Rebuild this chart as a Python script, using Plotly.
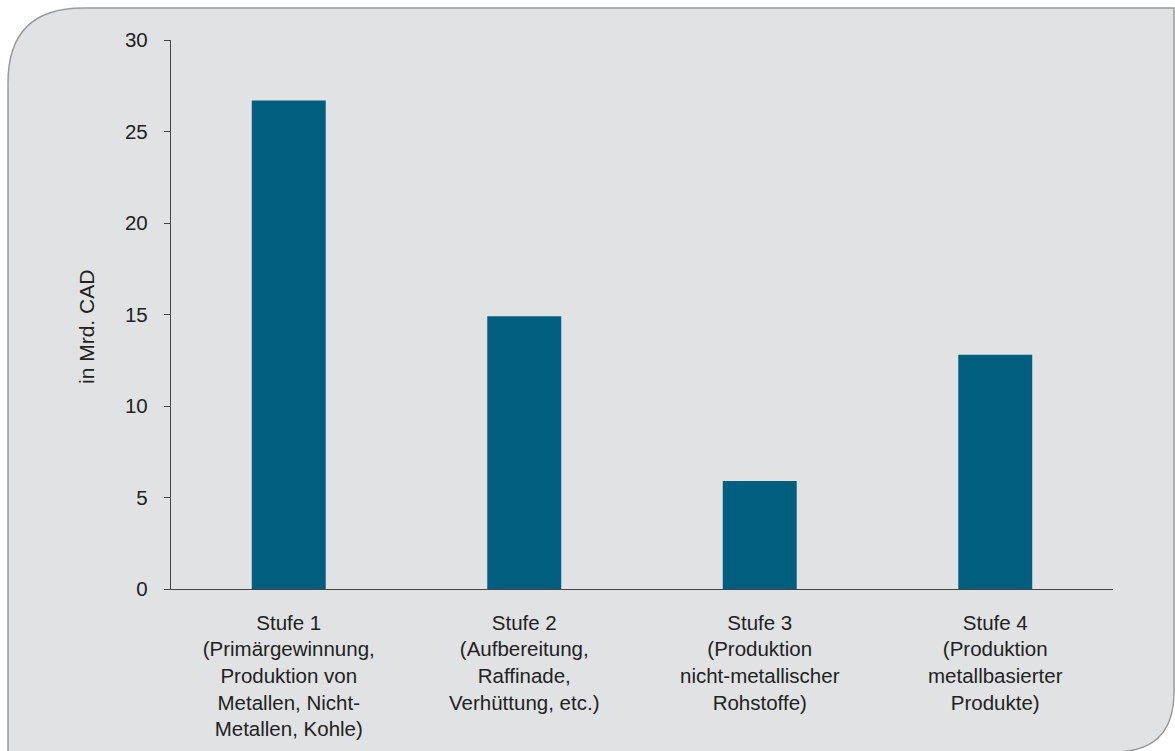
import plotly.graph_objects as go

categories = [
    "Stufe 1<br>(Primärgewinnung,<br>Produktion von<br>Metallen, Nicht-<br>Metallen, Kohle)",
    "Stufe 2<br>(Aufbereitung,<br>Raffinade,<br>Verhüttung, etc.)",
    "Stufe 3<br>(Produktion<br>nicht-metallischer<br>Rohstoffe)",
    "Stufe 4<br>(Produktion<br>metallbasierter<br>Produkte)",
]
values = [26.7, 14.9, 5.9, 12.8]
y_ticks = [0, 5, 10, 15, 20, 25, 30]
y_title = "in Mrd. CAD"

W, H = 1175, 751
L, R, T, B = 171, 1113, 40, 589

def px(x):
    return (x - L) / (R - L)

def py(y):
    return (B - y) / (B - T)

# background rounded panel (top-left and bottom-right rounded)
r1 = 75
r2 = 60
x0, y0, x1, y1 = 8, 8, 1174, 752
fill_path = (
    f"M {px(x0)},{py(y1 + 5)} "
    f"L {px(x0)},{py(y0 + r1)} "
    f"Q {px(x0)},{py(y0)} {px(x0 + r1)},{py(y0)} "
    f"L {px(x1)},{py(y0)} "
    f"L {px(x1)},{py(y1 - r2)} "
    f"Q {px(x1)},{py(y1)} {px(x1 - r2)},{py(y1)} "
    f"L {px(x0)},{py(y1)} Z"
)

fig = go.Figure()
fig.add_trace(go.Bar(
    x=categories, y=values,
    marker=dict(color="#005e7e", line=dict(width=0)),
    width=0.314,
))

fig.add_shape(type="path", path=fill_path, xref="paper", yref="paper",
              fillcolor="#e1e2e4", line=dict(color="#9a9a9a", width=1.5),
              layer="below")

fig.add_annotation(
    text=y_title, textangle=-90, showarrow=False,
    xref="paper", yref="paper", x=px(86), y=py(327),
    xanchor="center", yanchor="middle",
    font=dict(size=21, color="#222222"),
)

font = dict(family="Liberation Sans, Arial, sans-serif", size=20, color="#222222")

fig.update_layout(
    width=W, height=H,
    margin=dict(l=L, r=W - R, t=T, b=H - B),
    paper_bgcolor="white",
    plot_bgcolor="rgba(0,0,0,0)",
    font=font,
    showlegend=False,
    xaxis=dict(
        showline=True, linecolor="#444444", linewidth=1.3,
        ticks="", showgrid=False, ticklabelstandoff=15,
        tickfont=dict(size=20.5),
    ),
    yaxis=dict(
        range=[0, 30], tickvals=y_ticks,
        showline=True, linecolor="#444444", linewidth=1.3,
        ticks="outside", ticklen=6, tickcolor="#444444", tickwidth=1.3,
        showgrid=False, zeroline=False, ticklabelstandoff=12,
        tickfont=dict(size=20.5),
    ),
)

fig.write_html("out.html")
